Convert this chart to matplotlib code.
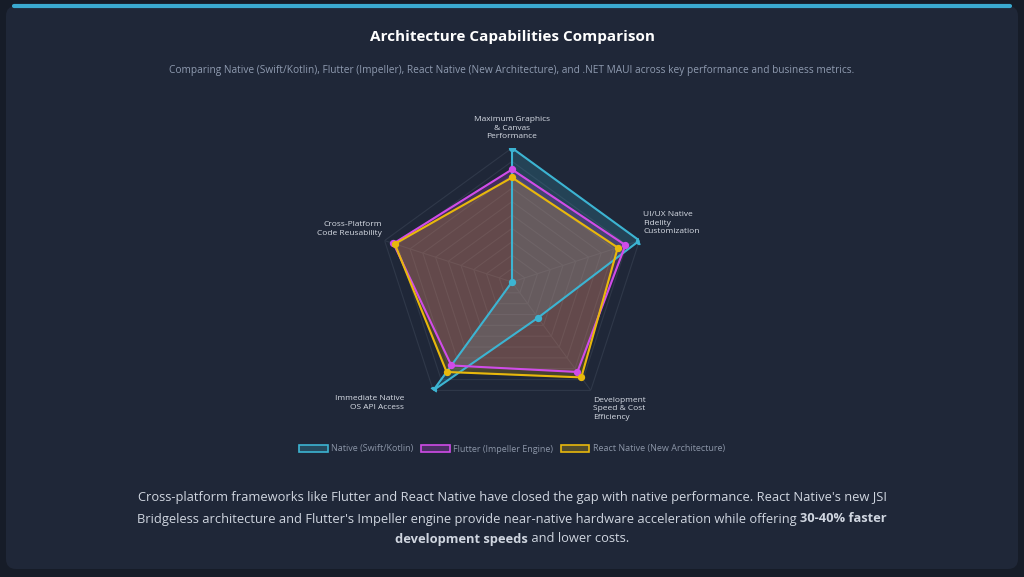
import numpy as np
import matplotlib
matplotlib.use("Agg")
import matplotlib.pyplot as plt
from matplotlib.patches import FancyBboxPatch, Patch

plt.rcParams['font.family'] = ['Open Sans', 'DejaVu Sans']

categories = ["Maximum Graphics\n& Canvas\nPerformance", "UI/UX Native\nFidelity\nCustomization",
              "Development\nSpeed & Cost\nEfficiency", "Immediate Native\nOS API Access",
              "Cross-Platform\nCode Reusability"]
series_names = ["Native (Swift/Kotlin)", "Flutter (Impeller Engine)", "React Native (New Architecture)"]
native = [100, 100, 33, 100, 0]
flutter = [84, 89, 83, 77, 93]
react = [78, 83, 88, 83, 92]
colors = ["#3cb4d2", "#d04ce8", "#e8b80c"]

W, H = 1024, 577
fig = plt.figure(figsize=(W/100, H/100), dpi=100)
fig.patch.set_facecolor("#161c28")
bg = fig.add_axes([0, 0, 1, 1]); bg.set_xlim(0, W); bg.set_ylim(H, 0); bg.axis("off")
bg.add_patch(FancyBboxPatch((6, 6), W-12, H-14, boxstyle="round,pad=0,rounding_size=10",
                            fc="#1f2738", ec="none"))
bg.plot([14, W-14], [6, 6], color="#3aa9d0", lw=3, solid_capstyle="round")

fig.text(512/W, 1-37/H, "Architecture Capabilities Comparison", ha="center", va="center",
         color="white", fontsize=11, fontweight="bold")
fig.text(512/W, 1-70/H, "Comparing Native (Swift/Kotlin), Flutter (Impeller), React Native (New Architecture), and .NET MAUI across key performance and business metrics.",
         ha="center", va="center", color="#8f9bb0", fontsize=7.3)

cx, cy, R = 512, 282, 134
ax = fig.add_axes([(cx-R)/W, (H-cy-R)/H, 2*R/W, 2*R/H], projection="polar")
ax.set_facecolor("none")
ax.set_theta_offset(np.pi/2); ax.set_theta_direction(-1)
ax.set_ylim(0, 100)
ax.grid(False); ax.spines["polar"].set_visible(False)
ax.set_xticks([]); ax.set_yticks([])
n = len(categories)
ang = np.linspace(0, 2*np.pi, n, endpoint=False)
angc = np.append(ang, ang[0])
for lv in range(10, 101, 10):
    ax.plot(angc, [lv]*(n+1), color="#2f3849", lw=0.8, zorder=1)
for a in ang:
    ax.plot([a, a], [0, 100], color="#2f3849", lw=0.8, zorder=1)
for vals, c in zip([native, flutter, react], colors):
    v = np.append(vals, vals[0])
    ax.fill(angc, v, color=c, alpha=0.2, zorder=2)
    ax.plot(angc, v, color=c, lw=1.5, zorder=3)
    ax.scatter(ang, vals, color=c, s=18, zorder=4)

lab_pos = [(512, 128, "center", "center"), (643, 223, "left", "center"),
           (593, 409, "left", "center"), (404, 403, "right", "center"),
           (382, 229, "right", "center")]
for (x, y, ha, va), t in zip(lab_pos, categories):
    fig.text(x/W, 1-y/H, t, ha=ha, va=va, color="#d8dde6", fontsize=6,
             multialignment=ha if ha != "center" else "center", linespacing=1.3)

handles = [Patch(facecolor=c, alpha=None, edgecolor=c, lw=1.2) for c in colors]
for h, c in zip(handles, colors):
    h.set_facecolor(matplotlib.colors.to_rgba(c, 0.25))
leg = fig.legend(handles, series_names, loc="center", bbox_to_anchor=(512/W, 1-449/H), ncol=3,
                 frameon=False, fontsize=6.5, handlelength=3.2, handleheight=0.9,
                 columnspacing=0.8, handletextpad=0.4)
for t in leg.get_texts():
    t.set_color("#8b95a7")

tc = "#d0d6e0"; fs = 9.3
fig.text(512/W, 1-498/H, "Cross-platform frameworks like Flutter and React Native have closed the gap with native performance. React Native's new JSI",
         ha="center", va="center", color=tc, fontsize=fs)
r = fig.canvas.get_renderer()
def line(parts, y):
    objs = [fig.text(0, 1-y/H, s, color=tc, fontsize=fs, va="center",
                     fontweight="bold" if b else "normal") for s, b in parts]
    ws = [o.get_window_extent(r).width for o in objs]
    x = 512 - sum(ws)/2
    for o, w in zip(objs, ws):
        o.set_x(x/W); x += w
line([("Bridgeless architecture and Flutter's Impeller engine provide near-native hardware acceleration while offering ", False),
      ("30-40% faster", True)], 519)
line([("development speeds", True), (" and lower costs.", False)], 539)

fig.savefig("out.png", dpi=100, facecolor=fig.get_facecolor())
